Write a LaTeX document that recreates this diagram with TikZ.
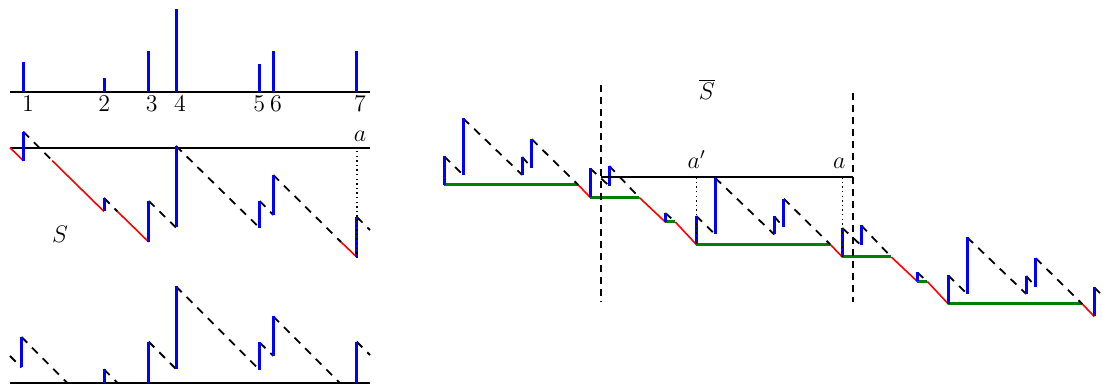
\documentclass[tikz,border=0pt]{standalone}
\begin{document}
\begin{tikzpicture}[x=0.5pt,y=-0.5pt,
 jmp/.style={blue, line width=1.5pt},
 drift/.style={red, line width=0.8pt},
 exc/.style={black, line width=0.9pt, dash pattern=on 4pt off 3.5pt},
 lvl/.style={green!50!black, line width=1.5pt},
 axisline/.style={black, line width=1pt},
 vguide/.style={black, line width=0.9pt, dash pattern=on 3.5pt off 2.5pt},
 dots/.style={black, line width=0.8pt, dash pattern=on 0.7pt off 1.6pt},
 lab/.style={font=\large, inner sep=0pt, anchor=base}]
\useasboundingbox (0,0) rectangle (1103,384);

% ---------- top panel: jump times and sizes
\draw[axisline] (10,92) -- (370,92);
\foreach \x/\h in {23.7/62, 104/78.5, 148.7/51, 176/9.5, 259.7/64.5, 273.3/51, 356.7/51}
  \draw[jmp] (\x,92) -- (\x,\h);
\node[lab] (n1) at (28,112) {$1$};
\node[lab] (n2) at (104.3,112) {$2$};
\node[lab] (n3) at (151.7,112) {$3$};
\node[lab] (n4) at (180,112) {$4$};
\node[lab] (n5) at (259.3,112) {$5$};
\node[lab] (n6) at (276,112) {$6$};
\node[lab] (n7) at (360,112) {$7$};

% ---------- middle panel: S
\draw[axisline] (10,147.7) -- (370,147.7);
\node[lab] (la) at (360,141.7) {$a$};
\node[lab] (lS) at (60,242.7) {$S$};
\draw[drift] (10,147.7) -- (23.3,160.7)
             (52.3,160.7) -- (104,211.5)
             (117.5,211.5) -- (148.7,242)
             (341,242) -- (356.7,257);
\draw[exc] (23.3,131.7) -- (52.3,160.7)
           (104,198) -- (117.5,211.5)
           (148.7,201) -- (176,227.5)
           (176,146) -- (259.7,228)
           (259.7,201) -- (273.3,215)
           (273.3,175) -- (341,242)
           (356.7,217) -- (370,230);
\draw[jmp] (23.3,160.7) -- (23.3,131.7)
           (104,211.5) -- (104,198)
           (148.7,242) -- (148.7,201)
           (176,227.5) -- (176,146)
           (259.7,228) -- (259.7,201)
           (273.3,215) -- (273.3,175)
           (356.7,257) -- (356.7,217);
\draw[dots] (356.7,151) -- (356.7,257);

% ---------- bottom panel: reflected process
\draw[axisline] (10,382.7) -- (370,382.7);
\draw[exc] (10,356) -- (21.5,367.5)
           (21.5,337) -- (67,382.7)
           (104,369.3) -- (117.4,382.7)
           (148.7,341.7) -- (176,369)
           (176,286.5) -- (259.7,370)
           (259.7,342.5) -- (273.3,356)
           (273.3,316.5) -- (339.5,382.7)
           (356.7,341.7) -- (370,355);
\draw[jmp] (21.5,367.5) -- (21.5,337)
           (104,382.7) -- (104,369.3)
           (148.7,382.7) -- (148.7,341.7)
           (176,369) -- (176,286.5)
           (259.7,370) -- (259.7,342.5)
           (273.3,356) -- (273.3,316.5)
           (356.7,382.7) -- (356.7,341.7);

% ---------- right panel: S-bar
\newcommand\qperiod{%
 \draw[lvl] (0,0) -- (134,0) (146,12.5) -- (195,12.5) (221,37) -- (231,37);
 \draw[drift] (134,0) -- (146,12.5) (195,12.5) -- (221,37) (231,37) -- (252,59.5);
 \draw[exc] (0,-28.5) -- (19,-10)
            (19,-66.5) -- (78,-10)
            (78,-28) -- (87.5,-17)
            (87.5,-45.7) -- (134,0)
            (146,-16.5) -- (165,1)
            (165,-19) -- (195,12.5)
            (221,28) -- (231,37);
 \draw[jmp] (0,0) -- (0,-28.5)
            (19,-10) -- (19,-66.5)
            (78,-10) -- (78,-28)
            (87.5,-17) -- (87.5,-45.7)
            (146,12.5) -- (146,-16.5)
            (165,1) -- (165,-19)
            (221,37) -- (221,28);}
\begin{scope}[shift={(444.3,185)}]
 \qperiod
\end{scope}
\begin{scope}[shift={(696.3,244.5)}]
 \qperiod
\end{scope}
\begin{scope}[shift={(948.3,304)}]
 \draw[lvl] (0,0) -- (134,0);
 \draw[drift] (134,0) -- (146,12.5);
 \draw[exc] (0,-28.5) -- (19,-10)
            (19,-66.5) -- (78,-10)
            (78,-28) -- (87.5,-17)
            (87.5,-45.7) -- (134,0)
            (146,-16.5) -- (154.7,-8);
 \draw[jmp] (0,0) -- (0,-28.5)
            (19,-10) -- (19,-66.5)
            (78,-10) -- (78,-28)
            (87.5,-17) -- (87.5,-45.7)
            (146,12.5) -- (146,-16.5);
\end{scope}

\coordinate (v1t) at (601,85);
\coordinate (v1b) at (601,302);
\coordinate (v2t) at (852.7,93);
\coordinate (v2b) at (852.7,302);
\draw[vguide] (v1t) -- (v1b);
\draw[vguide] (v2t) -- (v2b);
\draw[black, line width=0.9pt] (601,177.3) -- (852.7,177.3);
\draw[dots] (696.3,177.3) -- (696.3,244.5);
\draw[dots] (842.3,177.3) -- (842.3,257);
\node[lab] (lSbar) at (706.7,100) {$\overline{S}$};
\node[lab] (lap) at (696.7,168.3) {$a'$};
\node[lab] (la2) at (839.3,168.3) {$a$};
\end{tikzpicture}
\end{document}
